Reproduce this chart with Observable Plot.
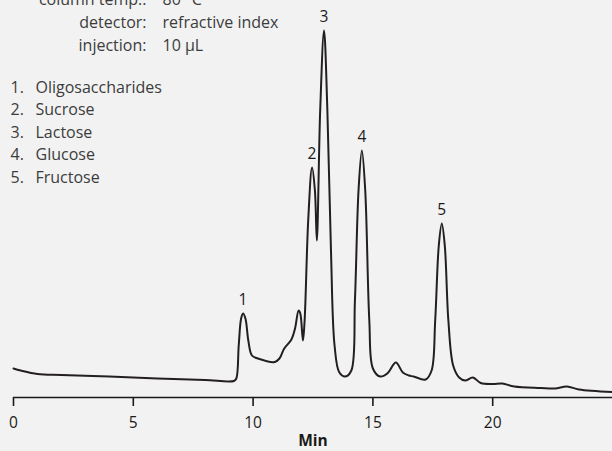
<!DOCTYPE html>
<html>
<head>
<meta charset="utf-8">
<script src="https://cdn.jsdelivr.net/npm/d3@7"></script>
<script src="https://cdn.jsdelivr.net/npm/@observablehq/plot@0.6"></script>
<style>
  html, body { margin: 0; padding: 0; background: #f2f2f2; }
  #chart svg { display: block; background: #f2f2f2; }
</style>
</head>
<body>
<div id="chart"></div>
<script>
// Chromatogram trace: time (min) and detector signal (arbitrary units)
const traceTime = [0, 0.3, 1, 2, 4, 6, 8, 9.2, 9.3, 9.4, 9.5, 9.58, 9.68, 9.8, 9.95, 10.2, 10.9, 11.1, 11.3, 11.6, 11.75, 11.9, 11.97, 12.08, 12.15, 12.3, 12.46, 12.58, 12.66, 12.8, 12.96, 13.1, 13.25, 13.4, 13.6, 13.85, 14.1, 14.25, 14.4, 14.54, 14.68, 14.85, 15.0, 15.3, 15.6, 15.96, 16.25, 16.5, 16.7, 17.2, 17.45, 17.6, 17.75, 17.875, 18.0, 18.15, 18.35, 18.6, 18.85, 19.17, 19.5, 20.0, 20.4, 20.9, 22, 22.6, 23.1, 23.6, 25];
const traceSignal = [29, 27, 23.5, 22.5, 21, 19, 17.5, 16.5, 19, 52, 79, 84, 79, 57, 42, 39, 35.5, 39, 49, 58, 69, 87, 84, 57, 77, 177, 230, 207, 157, 287, 367, 287, 147, 52, 25, 21, 27, 97, 207, 247, 207, 77, 29, 21, 24, 35, 25, 22, 21, 18, 27, 77, 152, 174, 152, 77, 32, 20, 17, 20, 14.5, 13.5, 14, 11, 9.5, 9, 11, 8, 5.5];

// Peak annotations
const peakLabels = ["1", "2", "3", "4", "5"];
const peakTimes = [9.58, 12.46, 12.96, 14.54, 17.875];
const peakSignals = [84, 230, 367, 247, 174];

// Compound list and conditions
const compoundNumbers = ["1.", "2.", "3.", "4.", "5."];
const compoundNames = ["Oligosaccharides", "Sucrose", "Lactose", "Glucose", "Fructose"];
const conditionLabels = ["column temp.:", "detector:", "injection:"];
const conditionValues = ["80 °C", "refractive index", "10 µL"];

// Axis
const xTicks = [0, 5, 10, 15, 20];
const xLabel = "Min";

const trace = traceTime.map((t, i) => ({t, s: traceSignal[i]}));
const peaks = peakLabels.map((l, i) => ({label: l, t: peakTimes[i], s: peakSignals[i]}));

const font = "'Open Sans', 'Noto Sans', sans-serif";
const fs = 16;

const chart = Plot.plot({
  width: 612,
  height: 451,
  marginLeft: 13,
  marginRight: 0,
  marginTop: 0,
  marginBottom: 54,
  style: {background: "#f2f2f2", fontFamily: font, fontSize: "15px", color: "#1a1a1a", overflow: "visible"},
  x: {domain: [0, 25]},
  y: {domain: [0, 397], axis: null},
  marks: [
    Plot.ruleY([0], {x1: 0, x2: 25, stroke: "#1a1a1a", strokeWidth: 1.6}),
    Plot.axisX({ticks: xTicks, tickSize: 9, tickPadding: 10, tickFormat: d => String(d), label: null, fontSize: 15.5, stroke: "#1a1a1a", strokeWidth: 1.6, fill: "#1a1a1a"}),
    Plot.text([xLabel], {frameAnchor: "bottom", dy: 48, text: d => d, fontSize: 15.5, fontWeight: "bold", fill: "#1a1a1a"}),
    Plot.line(trace, {x: "t", y: "s", curve: "catmull-rom", stroke: "#231f20", strokeWidth: 2}),
    Plot.text(peaks, {x: "t", y: "s", text: "label", dy: -13, fontSize: 15.5, fill: "#1a1a1a"}),
    Plot.text([conditionLabels.join("\n")], {frameAnchor: "top-left", text: d => d, textAnchor: "end", lineAnchor: "top", lineHeight: 1.42, dx: 133, dy: -11.5, fontSize: fs, fill: "#3c3c3c"}),
    Plot.text([conditionValues.join("\n")], {frameAnchor: "top-left", text: d => d, textAnchor: "start", lineAnchor: "top", lineHeight: 1.42, dx: 149, dy: -11.5, fontSize: fs, fill: "#3c3c3c"}),
    Plot.text([compoundNumbers.join("\n")], {frameAnchor: "top-left", text: d => d, textAnchor: "start", lineAnchor: "top", lineHeight: 1.4, dx: -3, dy: 76.5, fontSize: fs, fill: "#3c3c3c"}),
    Plot.text([compoundNames.join("\n")], {frameAnchor: "top-left", text: d => d, textAnchor: "start", lineAnchor: "top", lineHeight: 1.4, dx: 22, dy: 76.5, fontSize: fs, fill: "#3c3c3c"})
  ]
});
document.getElementById("chart").appendChild(chart);
</script>
</body>
</html>
